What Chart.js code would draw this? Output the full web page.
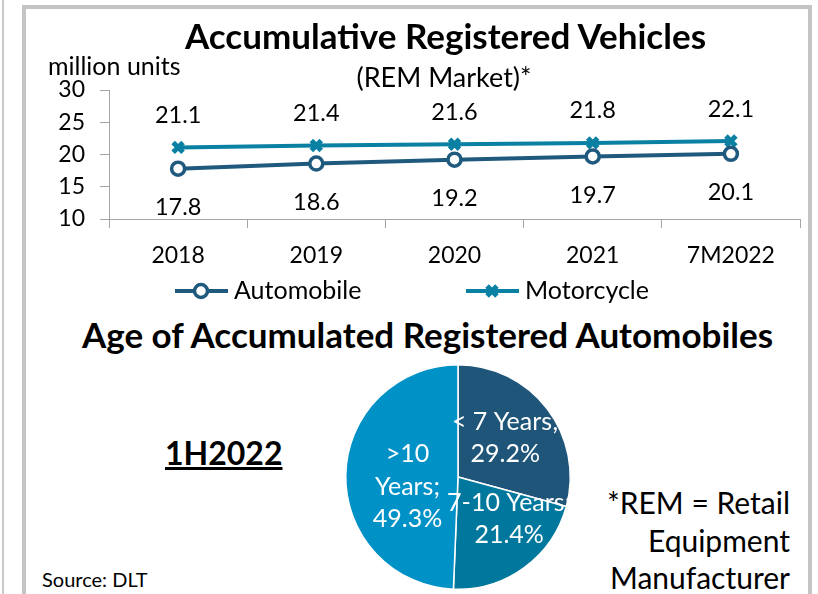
<!DOCTYPE html>
<html>
<head>
<meta charset="utf-8">
<script src="https://cdn.jsdelivr.net/npm/chart.js@4.4.0/dist/chart.umd.min.js"></script>
<style>
  html, body { margin: 0; padding: 0; }
  body { width: 818px; height: 594px; position: relative; overflow: hidden; background: #fff; font-family: Lato, "Open Sans", sans-serif; color: #000; }
  .abs { position: absolute; white-space: nowrap; line-height: 1; }
  #edge { left: 2px; top: 0; width: 2px; height: 594px; background: #c8c8c8; }
  #panel { left: 22px; top: 5px; width: 782px; height: 620px; border: 4px solid #c4c4c4; border-bottom: none; }
  #title1 { left: 0; width: 891px; top: 18px; text-align: center; font-size: 35px; font-weight: bold; }
  #sub1 { left: 0; width: 888px; top: 63px; text-align: center; font-size: 27px; }
  #units { left: 48px; top: 53px; font-size: 25px; }
  #title2 { left: 0; width: 855px; top: 317px; text-align: center; font-size: 35px; font-weight: bold; }
  #period { left: 165px; top: 437px; font-size: 32px; font-weight: bold; text-decoration: underline; }
  #note { right: 28px; top: 484px; font-size: 30px; text-align: right; line-height: 37.5px; }
  #source { left: 42px; top: 569px; font-size: 20px; }
  #lineBox { left: 0; top: 0; width: 818px; height: 310px; }
  #pieBox { left: 338px; top: 357px; width: 240px; height: 240px; }
</style>
</head>
<body>
<div id="edge" class="abs"></div>
<div id="panel" class="abs"></div>

<div id="lineBox" class="abs"><canvas id="chart-line"></canvas></div>
<div id="pieBox" class="abs"><canvas id="chart-pie"></canvas></div>

<div id="title1" class="abs">Accumulative Registered Vehicles</div>
<div id="sub1" class="abs">(REM Market)*</div>
<div id="units" class="abs">million units</div>
<div id="title2" class="abs">Age of Accumulated Registered Automobiles</div>
<div id="period" class="abs">1H2022</div>
<div id="note" class="abs">*REM = Retail<br>Equipment<br>Manufacturer</div>
<div id="source" class="abs">Source: DLT</div>

<script>
// data
const years = ['2018', '2019', '2020', '2021', '7M2022'];
const automobile = [17.8, 18.6, 19.2, 19.7, 20.1];
const motorcycle = [21.1, 21.4, 21.6, 21.8, 22.1];
const yTicks = [10, 15, 20, 25, 30];

const ageGroups = ['< 7 Years', '7-10 Years', '>10 Years'];
const ageShares = [29.2, 21.4, 49.3];

const AUTO_COLOR = '#1f5a7e';
const MOTO_COLOR = '#0a80a3';
const PIE_COLORS = ['#1f5579', '#00789d', '#0091c6'];
const FONT = 'Lato, "Open Sans", sans-serif';

// value labels above (motorcycle) / below (automobile) the points + hand drawn legend
const lineExtras = {
    id: 'lineExtras',
    afterDatasetsDraw(chart) {
        const ctx = chart.ctx;
        ctx.save();
        ctx.font = '23.5px ' + FONT;
        ctx.fillStyle = '#000';
        ctx.textAlign = 'center';
        ctx.textBaseline = 'middle';
        chart.data.datasets.forEach((ds, i) => {
            const meta = chart.getDatasetMeta(i);
            meta.data.forEach((pt, j) => {
                const dy = ds.labelSide === 'above' ? -32 : 39;
                ctx.fillText(ds.data[j].toFixed(1), pt.x, pt.y + dy);
            });
        });

        // legend
        const legendY = 291;
        ctx.font = '25px ' + FONT;
        const items = [{ ds: chart.data.datasets[0], x: 175 }, { ds: chart.data.datasets[1], x: 466 }];
        items.forEach(it => {
            const ds = it.ds;
            ctx.strokeStyle = ds.borderColor;
            ctx.lineWidth = 4;
            ctx.beginPath();
            ctx.moveTo(it.x, legendY);
            ctx.lineTo(it.x + 53, legendY);
            ctx.stroke();
            ctx.fillStyle = ds.pointBackgroundColor;
            ctx.strokeStyle = ds.pointBorderColor;
            ctx.lineWidth = ds.pointBorderWidth;
            Chart.helpers.drawPoint(ctx, {
                pointStyle: ds.pointStyle,
                radius: ds.pointRadius,
                borderWidth: ds.pointBorderWidth,
                rotation: 0
            }, it.x + 26, legendY);
            ctx.fillStyle = '#000';
            ctx.textAlign = 'left';
            ctx.fillText(ds.label, it.x + 59, legendY);
        });
        ctx.restore();
    }
};

new Chart(document.getElementById('chart-line'), {
    type: 'line',
    data: {
        labels: years,
        datasets: [
            {
                label: 'Automobile', data: automobile, labelSide: 'below',
                borderColor: AUTO_COLOR, borderWidth: 4,
                pointStyle: 'circle', pointRadius: 6.5, pointBorderWidth: 3.5,
                pointBackgroundColor: '#fff', pointBorderColor: AUTO_COLOR
            },
            {
                label: 'Motorcycle', data: motorcycle, labelSide: 'above',
                borderColor: MOTO_COLOR, borderWidth: 4,
                pointStyle: 'crossRot', pointRadius: 7, pointBorderWidth: 5,
                pointBackgroundColor: MOTO_COLOR, pointBorderColor: MOTO_COLOR
            }
        ]
    },
    options: {
        responsive: true, maintainAspectRatio: false, animation: false,
        layout: { padding: { left: 0, right: 18, top: 90, bottom: 41 } },
        plugins: { legend: { display: false }, tooltip: { enabled: false } },
        scales: {
            x: {
                offset: true,
                grid: { offset: true, drawOnChartArea: false, tickLength: 9, color: '#a6a6a6', lineWidth: 1 },
                border: { color: '#a6a6a6', width: 1 },
                ticks: { color: '#000', font: { family: FONT, size: 23 }, padding: 14, maxRotation: 0 },
                afterFit: s => { s.height = 50; }
            },
            y: {
                min: 10, max: 30,
                afterBuildTicks: s => { s.ticks = yTicks.map(v => ({ value: v })); },
                grid: { drawOnChartArea: false, tickLength: 9, color: '#a6a6a6', lineWidth: 1 },
                border: { color: '#a6a6a6', width: 1 },
                ticks: { color: '#000', font: { family: FONT, size: 23 }, padding: 15 },
                afterFit: s => { s.width = 109; }
            }
        }
    },
    plugins: [lineExtras]
});

// pie labels inside the slices (small nudges to sit where the original put them)
const pieNudge = [[0, -3], [16, -6], [9, 11]];
const pieLabels = {
    id: 'pieLabels',
    afterDatasetsDraw(chart) {
        const ctx = chart.ctx;
        const meta = chart.getDatasetMeta(0);
        ctx.save();
        ctx.font = '25px ' + FONT;
        ctx.fillStyle = '#fff';
        ctx.textAlign = 'center';
        ctx.textBaseline = 'middle';
        meta.data.forEach((arc, i) => {
            const mid = (arc.startAngle + arc.endAngle) / 2;
            const r = arc.outerRadius * 0.53;
            const cx = arc.x + Math.cos(mid) * r + pieNudge[i][0];
            const cy = arc.y + Math.sin(mid) * r + pieNudge[i][1];
            const name = ageGroups[i];
            const pct = ageShares[i].toFixed(1) + '%';
            let lines;
            if (name.startsWith('>')) {
                lines = ['>10', 'Years;', pct];
            } else {
                lines = [name + ';', pct];
            }
            const lh = 32.5;
            const y0 = cy - (lines.length - 1) * lh / 2;
            lines.forEach((t, k) => ctx.fillText(t, cx, y0 + k * lh));
        });
        ctx.restore();
    }
};

new Chart(document.getElementById('chart-pie'), {
    type: 'pie',
    data: {
        labels: ageGroups,
        datasets: [{
            data: ageShares,
            backgroundColor: PIE_COLORS,
            borderColor: '#fff',
            borderWidth: 1.5
        }]
    },
    options: {
        responsive: true, maintainAspectRatio: false, animation: false,
        layout: { padding: 7 },
        plugins: { legend: { display: false }, tooltip: { enabled: false } }
    },
    plugins: [pieLabels]
});
</script>
</body>
</html>
